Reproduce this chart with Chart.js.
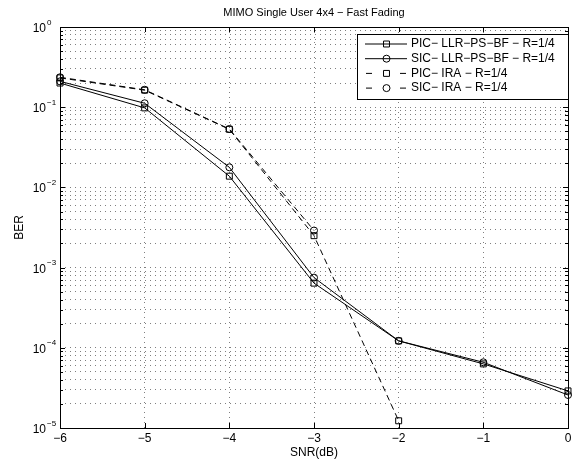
<!DOCTYPE html>
<html>
<head>
<meta charset="utf-8">
<script src="https://cdn.jsdelivr.net/npm/chart.js@4/dist/chart.umd.min.js"></script>
<style>
html, body { margin: 0; padding: 0; background: #fff; }
</style>
</head>
<body>
<canvas id="berChart" width="576" height="464"></canvas>
<script>
// values
const snr = [-6, -5, -4, -3, -2, -1, 0]
const picLlr = [0.200, 0.098, 0.0138, 0.00064, 0.000122, 0.000063, 0.000029]
const sicLlr = [0.210, 0.112, 0.0178, 0.00075, 0.000122, 0.000066, 0.0000258]
const picIra = [0.232, 0.163, 0.053, 0.0025, 0.0000123, null, null]
const sicIra = [0.236, 0.165, 0.0535, 0.0029, null, null, null]

const names = [
    'PIC\u2212 LLR\u2212PS\u2212BF \u2212 R=1/4',
    'SIC\u2212 LLR\u2212PS\u2212BF \u2212 R=1/4',
    'PIC\u2212 IRA \u2212 R=1/4',
    'SIC\u2212 IRA \u2212 R=1/4'
]
const xTicks = [-6, -5, -4, -3, -2, -1, 0]
const yExponents = [-5, -4, -3, -2, -1, 0]
const minorSteps = [1, 2, 3, 4, 5, 6, 7, 8, 9]

const FONT = '"Liberation Sans", Arial, sans-serif'

function points(values) {
    return snr.map((s, i) => ({ x: s, y: values[i] }))
}

function series(label, values, shape, dashed) {
    return {
        label: label,
        data: points(values),
        borderColor: '#000',
        borderWidth: 1,
        borderDash: dashed ? [6, 4] : [],
        pointStyle: shape,
        pointRadius: shape === 'rect' ? 4.2 : 3.5,
        pointBorderWidth: 1,
        pointBorderColor: '#000',
        pointBackgroundColor: 'rgba(0,0,0,0)',
        tension: 0,
        spanGaps: false,
        clip: false
    }
}

const matlabLook = {
    id: 'matlabLook',
    afterDraw(chart) {
        const ctx = chart.ctx
        const a = chart.chartArea
        const xs = chart.scales.x
        const ys = chart.scales.y
        ctx.save()

        // inward tick marks on all four sides
        ctx.strokeStyle = '#000'
        ctx.lineWidth = 1
        ctx.beginPath()
        xTicks.forEach(v => {
            const px = Math.round(xs.getPixelForValue(v)) + 0.5
            ctx.moveTo(px, a.bottom); ctx.lineTo(px, a.bottom - 5)
            ctx.moveTo(px, a.top); ctx.lineTo(px, a.top + 5)
        })
        yExponents.forEach(e => {
            minorSteps.forEach(m => {
                const v = m * Math.pow(10, e)
                if (v > ys.max * 1.0001) return
                const py = Math.round(ys.getPixelForValue(v)) + 0.5
                const len = m === 1 ? 5 : 3
                ctx.moveTo(a.left, py); ctx.lineTo(a.left + len, py)
                ctx.moveTo(a.right, py); ctx.lineTo(a.right - len, py)
            })
        })
        ctx.stroke()

        // axes box
        ctx.strokeRect(Math.round(a.left) + 0.5, Math.round(a.top) + 0.5,
            Math.round(a.right - a.left), Math.round(a.bottom - a.top))

        // texts
        ctx.fillStyle = '#000'
        ctx.font = '11px ' + FONT
        ctx.textAlign = 'center'
        ctx.textBaseline = 'middle'
        ctx.fillText('MIMO Single User 4x4 \u2212 Fast Fading', (a.left + a.right) / 2, 13)
        ctx.font = '12px ' + FONT
        ctx.fillText('SNR(dB)', (a.left + a.right) / 2, 453)

        xTicks.forEach(v => {
            const label = v < 0 ? '\u2212' + Math.abs(v) : String(v)
            ctx.fillText(label, xs.getPixelForValue(v), 438.5)
        })

        yExponents.forEach(e => {
            const py = ys.getPixelForValue(Math.pow(10, e))
            ctx.font = '12px ' + FONT
            ctx.textAlign = 'right'
            ctx.textBaseline = 'alphabetic'
            ctx.fillText('10', 46, py + 5)
            ctx.font = '8px ' + FONT
            ctx.textAlign = 'left'
            ctx.fillText(e < 0 ? '\u2212' + Math.abs(e) : String(e), 47, py - 2.5)
        })

        ctx.save()
        ctx.font = '12px ' + FONT
        ctx.textAlign = 'center'
        ctx.textBaseline = 'middle'
        ctx.translate(20, (a.top + a.bottom) / 2)
        ctx.rotate(-Math.PI / 2)
        ctx.fillText('BER', 0, 0)
        ctx.restore()

        // legend box
        const lx = 357.5, ly = 34.5, lw = 211, lh = 65
        ctx.fillStyle = '#fff'
        ctx.fillRect(lx, ly, lw, lh)
        ctx.strokeStyle = '#000'
        ctx.lineWidth = 1
        ctx.strokeRect(lx, ly, lw, lh)

        const rows = [44, 58.7, 73.4, 88.1]
        chart.data.datasets.forEach((ds, i) => {
            const y = rows[i]
            ctx.strokeStyle = '#000'
            ctx.lineWidth = 1
            ctx.setLineDash([])
            ctx.beginPath()
            if (ds.borderDash.length) {
                ctx.moveTo(366, y); ctx.lineTo(372, y)
                ctx.moveTo(400, y); ctx.lineTo(406, y)
            } else {
                ctx.moveTo(365, y); ctx.lineTo(407, y)
            }
            ctx.stroke()
            ctx.fillStyle = 'rgba(0,0,0,0)'
            Chart.helpers.drawPoint(ctx, {
                pointStyle: ds.pointStyle,
                radius: ds.pointRadius,
                rotation: 0,
                borderWidth: 1
            }, 386.5, y)
            ctx.fillStyle = '#000'
            ctx.font = '12px ' + FONT
            ctx.textAlign = 'left'
            ctx.textBaseline = 'middle'
            ctx.fillText(ds.label, 411, y)
        })

        ctx.restore()
    }
}

const berChart = new Chart(document.getElementById('berChart').getContext('2d'), {
    type: 'line',
    data: {
        datasets: [
            series(names[0], picLlr, 'rect', false),
            series(names[1], sicLlr, 'circle', false),
            series(names[2], picIra, 'rect', true),
            series(names[3], sicIra, 'circle', true)
        ]
    },
    options: {
        responsive: false,
        animation: false,
        devicePixelRatio: 1,
        layout: { padding: { top: 27, right: 8, left: 0, bottom: 0 } },
        plugins: {
            legend: { display: false },
            title: { display: false },
            tooltip: { enabled: false }
        },
        scales: {
            x: {
                type: 'linear',
                min: -6,
                max: 0,
                ticks: { display: false, stepSize: 1 },
                afterBuildTicks: scale => { scale.ticks = xTicks.map(v => ({ value: v })) },
                afterFit: scale => { scale.height = 36 },
                grid: { color: 'rgba(0,0,0,0.5)', lineWidth: 1, drawTicks: false },
                border: { display: false, dash: [1, 4] }
            },
            y: {
                type: 'logarithmic',
                min: 1e-5,
                max: 1,
                ticks: { display: false },
                afterBuildTicks: scale => {
                    const t = []
                    yExponents.forEach(e => {
                        minorSteps.forEach(m => {
                            const v = m * Math.pow(10, e)
                            if (v <= 1.0001) t.push({ value: v, major: m === 1 })
                        })
                    })
                    scale.ticks = t
                },
                afterFit: scale => { scale.width = 60 },
                grid: { color: 'rgba(0,0,0,0.5)', lineWidth: 1, drawTicks: false },
                border: { display: false, dash: [1, 4] }
            }
        }
    },
    plugins: [matlabLook]
});
</script>
</body>
</html>
